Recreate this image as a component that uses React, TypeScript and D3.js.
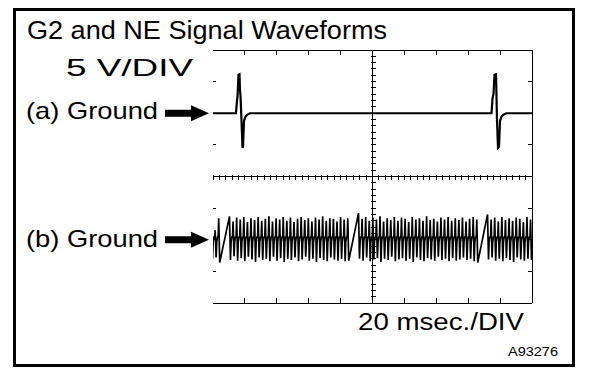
import React from 'react';
import * as d3 from 'd3';

const titleText = 'G2 and NE Signal Waveforms';
const voltLabel = '5 V/DIV';
const timeLabel = '20 msec./DIV';
const channelLabels = ['(a) Ground', '(b) Ground'];
const figureId = 'A93276';

const timeDomainMs = [0, 200];
const divisionsX = 10;
const divisionsY = 8;
const voltsPerDiv = 5;
const groundDivs = [2, 6];

// G2 signal (channel a): time in ms, voltage in V
const g2Time = [0, 14.4, 15.05, 15.36, 15.99, 16.61, 16.93, 17.24, 17.87, 18.5, 18.81, 19.44, 20.38, 21.32, 23.2,
  174.6, 175.24, 175.86, 176.49, 177.43, 177.74, 178.06, 178.68, 179.31, 179.94, 180.88, 182.13, 184.0, 200];
const g2Volt = [0, 0, 1.98, 2.61, 6.09, 6.17, 3.56, 2.77, -1.19, -5.46, -5.3, -1.19, -0.55, -0.24, 0,
  0, 2.29, 3.08, 6.09, 6.17, 2.77, -1.19, -5.46, -5.3, -1.19, -0.55, -0.24, 0, 0];

// NE signal (channel b): per-tooth peak voltages, null = missing tooth
const neFirstToothMs = 10.0;
const neToothPeriodMs = 2.247;
const neStartTooth = -5;
const neHigh: (number | null)[] = [
  2.4, 1.5, 3.4, null, null,
  3.7, 2.9, 3.5, 3.2, 3.6, 2.8, 3.4, 3.1, 3.6, 3.0, 3.3, 3.7, 2.9, 3.4, 3.2, 3.6, 3.0,
  3.5, 2.8, 3.3, 3.6, 3.1, 3.4, 2.9, 3.5, 3.2, 3.7, 3.0, 3.4, 3.3, 2.9, 3.6, 3.2, 3.4,
  null, null,
  4.2, 3.3, 3.6, 3.0, 3.5, 3.2, 3.7, 2.9, 3.4, 3.1, 3.6, 3.0, 3.5, 3.3, 2.8, 3.6, 3.2,
  3.4, 3.0, 3.7, 3.1, 3.3, 2.9, 3.5, 3.2, 3.6, 3.0, 3.4, 3.1, 3.5, 2.9, 3.3, 3.6, 3.2,
  null, null,
  4.0, 3.2, 3.5, 2.9, 3.6, 3.1, 3.4, 3.0, 3.5, 3.3, 2.8, 3.6, 3.2, 3.4,
];
const neLow: (number | null)[] = [
  -3.0, -2.8, -3.6, null, null,
  -3.2, -2.6, -3.3, -2.9, -3.4, -2.7, -3.1, -3.5, -2.8, -3.2, -3.0, -3.4, -2.7, -3.3, -2.9, -3.5, -3.0,
  -3.2, -2.8, -3.4, -3.1, -2.7, -3.3, -3.0, -3.5, -2.9, -3.2, -3.4, -2.8, -3.1, -3.3, -3.0, -3.4, -3.3,
  null, null,
  -3.0, -3.3, -2.8, -3.4, -3.1, -2.9, -3.5, -3.0, -3.2, -2.7, -3.4, -3.1, -2.9, -3.3, -3.0, -3.5, -2.8,
  -3.2, -3.4, -2.9, -3.1, -3.3, -2.7, -3.2, -3.0, -3.4, -2.9, -3.3, -3.1, -2.8, -3.2, -3.0, -3.4, -3.6,
  null, null,
  -3.1, -2.8, -3.3, -3.0, -3.4, -2.9, -3.2, -3.5, -2.8, -3.1, -3.3, -3.0, -3.2, -2.9,
];
// level between teeth (V) and where in a tooth period each feature sits
const neMidVolt = [0.4, -0.3];
const neShapePhase = { mid1: 0, high: 0.15, low: 0.42, mid2: 0.6, mid3: 0.8 };

const W = 608;
const H = 374;
const FONT = '"Liberation Sans", Arial, Helvetica, sans-serif';

export default function App() {
  const x = d3.scaleLinear().domain(timeDomainMs).range([213, 532]);
  const yDiv = d3.scaleLinear().domain([0, divisionsY]).range([50, 303]);
  const msPerDiv = (timeDomainMs[1] - timeDomainMs[0]) / divisionsX;
  const xDiv = (d: number) => x(timeDomainMs[0] + d * msPerDiv);
  const yVolt = (ch: number, v: number) => yDiv(groundDivs[ch] - v / voltsPerDiv);

  const line = d3.line<[number, number]>().x(d => d[0]).y(d => d[1]);

  const g2Pts: [number, number][] = g2Time.map((t, i) => [x(t), yVolt(0, g2Volt[i])]);

  const nePts: [number, number][] = [];
  neHigh.forEach((hv, i) => {
    const lv = neLow[i];
    if (hv === null || lv === null) return;
    const t0 = neFirstToothMs + (neStartTooth + i) * neToothPeriodMs;
    const at = (ph: number) => x(t0 + ph * neToothPeriodMs);
    const prevMissing = i > 0 && neHigh[i - 1] === null;
    const nextMissing = i < neHigh.length - 1 && neHigh[i + 1] === null;
    if (!prevMissing) nePts.push([at(neShapePhase.mid1), yVolt(1, neMidVolt[0])]);
    nePts.push([at(neShapePhase.high), yVolt(1, hv)]);
    nePts.push([at(neShapePhase.low), yVolt(1, lv)]);
    if (!nextMissing) {
      nePts.push([at(neShapePhase.mid2), yVolt(1, neMidVolt[1])]);
      nePts.push([at(neShapePhase.mid3), yVolt(1, neMidVolt[0])]);
    }
  });

  const majorX = d3.range(1, divisionsX);
  const majorY = d3.range(1, divisionsY);
  const minorX = d3.range(0, divisionsX * 5 + 1).map(i => i / 5);
  const minorY = d3.range(0, divisionsY * 5 + 1).map(i => i / 5);
  const cx = xDiv(divisionsX / 2);
  const cy = yDiv(divisionsY / 2);
  const left = xDiv(0), right = xDiv(divisionsX), top = yDiv(0), bottom = yDiv(divisionsY);

  const arrow = (yc: number) => {
    const p = d3.path();
    p.moveTo(165, yc - 3.5);
    p.lineTo(191, yc - 3.5);
    p.lineTo(191, yc - 8);
    p.lineTo(209, yc);
    p.lineTo(191, yc + 8);
    p.lineTo(191, yc + 3.5);
    p.lineTo(165, yc + 3.5);
    p.closePath();
    return p.toString();
  };

  return (
    <svg width={W} height={H} viewBox={`0 0 ${W} ${H}`}
      style={{ position: 'fixed', left: 0, top: 0, background: '#fff', fontFamily: FONT }}>
      <rect x={0} y={0} width={W} height={H} fill="#fff" />
      <rect x={14.5} y={9.5} width={559} height={356} fill="none" stroke="#000" strokeWidth={3} />

      <text x={27} y={39} fontSize={25} textLength={360} lengthAdjust="spacingAndGlyphs">{titleText}</text>
      <text x={66} y={76} fontSize={24} textLength={127} lengthAdjust="spacingAndGlyphs">{voltLabel}</text>
      <text x={26} y={118.5} fontSize={24} textLength={132} lengthAdjust="spacingAndGlyphs">{channelLabels[0]}</text>
      <text x={26} y={247} fontSize={24} textLength={132} lengthAdjust="spacingAndGlyphs">{channelLabels[1]}</text>
      <text x={358} y={330} fontSize={23} textLength={166} lengthAdjust="spacingAndGlyphs">{timeLabel}</text>
      <text x={508} y={356} fontSize={13} textLength={50} lengthAdjust="spacingAndGlyphs">{figureId}</text>

      <path d={arrow(yVolt(0, 0))} fill="#000" />
      <path d={arrow(yVolt(1, 0))} fill="#000" />

      <g stroke="#000" strokeWidth={1} fill="none" shapeRendering="crispEdges">
        <line x1={left} x2={right} y1={top} y2={top} />
        <line x1={left} x2={right} y1={bottom} y2={bottom} />
        <line x1={right} x2={right} y1={top} y2={bottom} />
        <line x1={cx} x2={cx} y1={top} y2={bottom} />
        <line x1={left} x2={right} y1={cy} y2={cy} />
        {majorX.map(d => (
          <g key={'mx' + d}>
            <line x1={xDiv(d)} x2={xDiv(d)} y1={top} y2={top + 5} />
            <line x1={xDiv(d)} x2={xDiv(d)} y1={bottom} y2={bottom - 5} />
          </g>
        ))}
        {majorY.map(d => (
          <g key={'my' + d}>
            <line x1={right} x2={right - 4} y1={yDiv(d)} y2={yDiv(d)} />
            <line x1={left} x2={left + 3} y1={yDiv(d)} y2={yDiv(d)} />
          </g>
        ))}
        {minorX.map(d => (
          <line key={'nx' + d} x1={xDiv(d)} x2={xDiv(d)} y1={cy - 2} y2={cy + 3} />
        ))}
        {minorY.map(d => (
          <line key={'ny' + d} x1={cx - 2} x2={cx + 3} y1={yDiv(d)} y2={yDiv(d)} />
        ))}
      </g>

      <defs>
        <clipPath id="plotClip">
          <rect x={left} y={top} width={right - left} height={bottom - top} />
        </clipPath>
      </defs>
      <g clipPath="url(#plotClip)" fill="none" stroke="#000" strokeLinejoin="miter">
        <path d={line(g2Pts) || ''} strokeWidth={2.2} />
        <path d={line(nePts) || ''} strokeWidth={1.7} />
      </g>
    </svg>
  );
}
